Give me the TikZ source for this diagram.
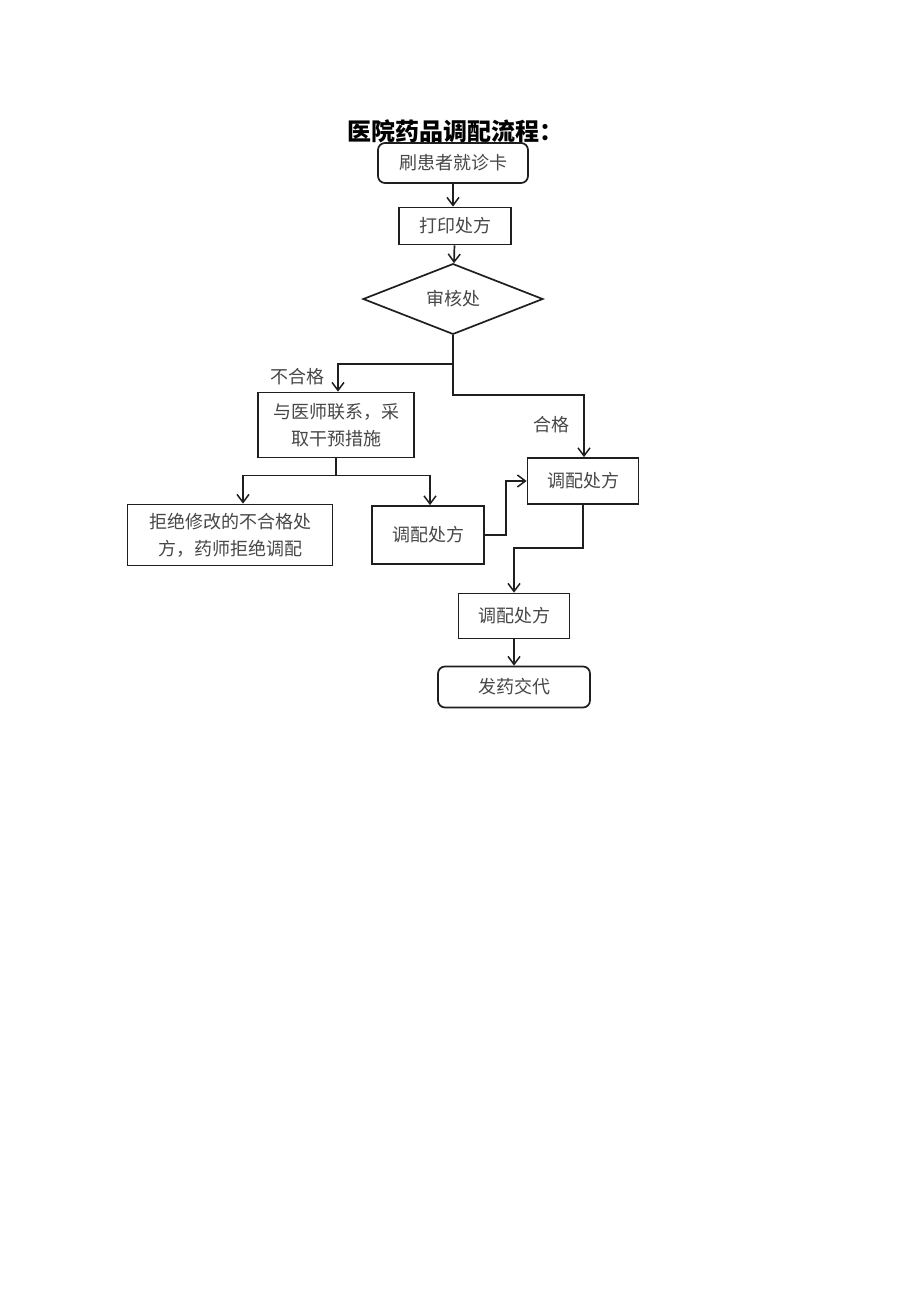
\documentclass[tikz,border=0pt]{standalone}
\usepackage{fontspec}
\newfontfamily\cjk{Noto Sans CJK SC}
\usetikzlibrary{shapes.geometric,arrows.meta,positioning}
\begin{document}
\begin{tikzpicture}[
  x=1pt, y=-1pt,
  every node/.style={font=\cjk\fontsize{18}{27}\selectfont, text=black!72},
  block/.style={rectangle, draw=black!88, line width=1.7pt, inner sep=0pt, align=center},
  terminal/.style={block, rounded corners=7pt},
  decision/.style={diamond, draw=black!88, line width=1.7pt, inner sep=0pt, minimum width=180pt, minimum height=66pt},
  label/.style={font=\cjk\fontsize{18}{27}\selectfont},
  line/.style={draw=black!88, line width=1.7pt},
  arrow/.style={line, -{Straight Barb[length=8pt, width=12pt, line width=1.5pt]}},
]
  \useasboundingbox (0,0) rectangle (920,1301);
  \fill[white] (0,0) rectangle (920,1301);

  \node[font=\cjk\bfseries\fontsize{24}{28}\selectfont, text=black] (title) at (455,131) {医院药品调配流程：};

  \node[terminal, minimum width=150pt, minimum height=40pt] (card) at (453,163) {刷患者就诊卡};
  \node[block, minimum width=112pt, minimum height=37pt] (print) at (455,226) {打印处方};
  \node[decision] (check) at (453,299) {审核处};
  \node[block, minimum width=156pt, minimum height=65pt] (contact) at (336,425) {与医师联系，采\\取干预措施};
  \node[block, minimum width=205pt, minimum height=61pt] (reject) at (230,535) {拒绝修改的不合格处\\方，药师拒绝调配};
  \node[block, minimum width=112pt, minimum height=58pt] (mix) at (428,535) {调配处方};
  \node[block, minimum width=111pt, minimum height=46pt] (dispense) at (583,481) {调配处方};
  \node[block, minimum width=111pt, minimum height=45pt] (recheck) at (514,616) {调配处方};
  \node[terminal, minimum width=152pt, minimum height=41pt] (deliver) at (514,687) {发药交代};

  \node[label] (fail) at (297,377) {不合格};
  \node[label] (pass) at (551,425) {合格};

  \draw[arrow] (card) -- (card |- print.north);
  \draw[arrow] (print) -- (check);
  \draw[arrow] (check.south) -- ++(0,29) -| ([xshift=2pt]contact.north);
  \draw[arrow] (check.south) -- ++(0,60) -| ([xshift=1pt]dispense.north);
  \draw[arrow] (contact.south) -- ++(0,17) -| ([xshift=13pt]reject.north);
  \draw[arrow] (contact.south) -- ++(0,17) -| ([xshift=2pt]mix.north);
  \draw[arrow] (mix.east) -- ++(21,0) |- (dispense.west);
  \draw[arrow] (dispense.south) -- ++(0,43) -| (recheck.north);
  \draw[arrow] (recheck) -- (deliver);
\end{tikzpicture}
\end{document}
